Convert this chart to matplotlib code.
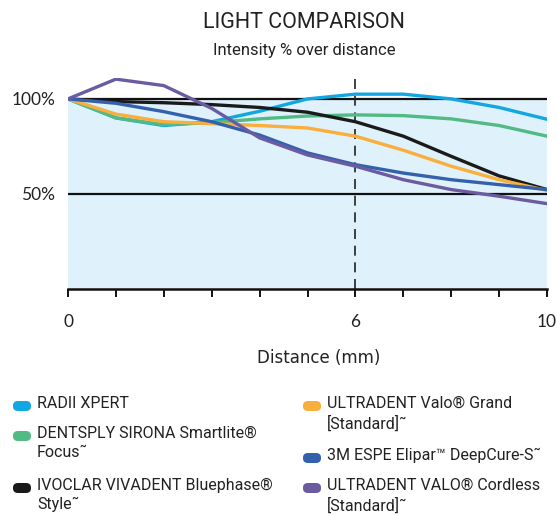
import matplotlib.pyplot as plt
from matplotlib.patches import FancyBboxPatch

# datos (intensidad % cada mm)
distance = [0, 1, 2, 3, 4, 5, 6, 7, 8, 9, 10]
radii = [100, 90, 86, 88, 93.5, 100, 102.5, 102.5, 100, 95.5, 89.3]
dentsply = [100, 90, 86.5, 87.5, 89.5, 91, 91.6, 91.2, 89.5, 86, 80.4]
ivoclar = [100, 98.6, 98, 97, 95.5, 93, 88, 80.4, 69.8, 59.5, 52.3]
valo_grand = [100, 92, 88, 87, 86, 84.7, 80.4, 73, 64.6, 57.5, 51.8]
elipar = [100, 97.7, 93.3, 88, 81, 71.6, 65.4, 61, 57.5, 54.9, 52.3]
valo_cordless = [100, 110.4, 107, 95, 79.5, 70.5, 64.6, 57.5, 52.3, 48.8, 44.9]

xtick_labels = ["0", "", "", "", "", "", "6", "", "", "", "10"]
ref_lines = [100, 50]
marker_x = 6

series = [
    ("RADII XPERT", radii, "#12A7E2"),
    ("DENTSPLY SIRONA Smartlite®\nFocus˜", dentsply, "#52BA84"),
    ("IVOCLAR VIVADENT Bluephase®\nStyle˜", ivoclar, "#1B1A1A"),
    ("ULTRADENT Valo® Grand\n[Standard]˜", valo_grand, "#FAAE3B"),
    ("3M ESPE Elipar™ DeepCure-S˜", elipar, "#3461AE"),
    ("ULTRADENT VALO® Cordless\n[Standard]˜", valo_cordless, "#6B5BA1"),
]

W, H = 557, 516
cond = ["Roboto", "DejaVu Sans"]
fig = plt.figure(figsize=(W / 100, H / 100), dpi=100)
ax = fig.add_axes([68 / W, (H - 289) / H, 479 / W, 211 / H])
ax.set_xlim(0, 10)
ax.set_ylim(0, 111)

ax.fill_between([0, 10], 0, 100, color="#DFF1FA", lw=0, zorder=0)
for y in ref_lines:
    ax.plot([0, 10], [y, y], color="#111111", lw=1.6, zorder=1)
ax.plot([marker_x, marker_x], [0, 111], color="#222222", lw=1.2, ls=(0, (6, 4)), zorder=1)

for name, vals, col in series:
    ax.plot(distance, vals, color=col, lw=2.4, solid_joinstyle="round",
            solid_capstyle="round", zorder=3)

for s in ["top", "right", "left"]:
    ax.spines[s].set_visible(False)
ax.spines["bottom"].set_linewidth(1.8)
ax.spines["bottom"].set_color("#111111")
ax.set_xticks(distance)
ax.set_xticklabels(xtick_labels, fontsize=12.5, family="Lato", color="#222222")
ax.tick_params(axis="x", length=6, width=1.4, color="#111111", pad=12)
ax.set_yticks(ref_lines)
ax.set_yticklabels(["100%", "50%"], fontsize=12.5, family="Lato", color="#222222")
ax.tick_params(axis="y", length=0, pad=9)
ax.set_xlabel("Distance (mm)", fontsize=12, family="DejaVu Sans", color="#222222")
ax.xaxis.set_label_coords(0.523, -0.285)

fig.text(304 / W, 1 - 22 / H, "LIGHT COMPARISON", ha="center", va="center",
         fontsize=15.5, family=cond, color="#222222")
fig.text(304 / W, 1 - 50 / H, "Intensity % over distance", ha="center", va="center",
         fontsize=12, family=cond, color="#222222")

# leyenda manual en dos columnas
pos = [(13, 406), (13, 436), (13, 488), (303, 406), (303, 458), (303, 488)]
for (name, vals, col), (px, py) in zip(series, pos):
    pill = FancyBboxPatch((px / W, 1 - (py + 5) / H), 18 / W, 10 / H,
                          boxstyle="round,pad=0,rounding_size=0.009",
                          transform=fig.transFigure, color=col, lw=0)
    fig.patches.append(pill)
    fig.text((px + 24) / W, 1 - (py - 10) / H, name, ha="left", va="top",
             fontsize=11.5, family=cond, color="#222222", linespacing=1.35)

fig.savefig("out.png", dpi=100)
